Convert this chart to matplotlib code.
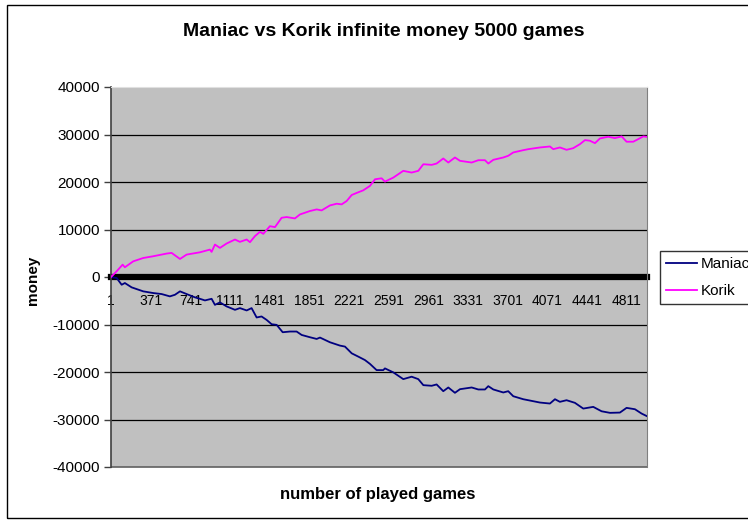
import matplotlib.pyplot as plt
from matplotlib.patches import Rectangle

plt.rcParams['font.family'] = ['Liberation Sans', 'DejaVu Sans']

# game number -> running money
korik_games = [1, 53, 109, 130, 208, 301, 395, 519, 566, 644, 706, 830, 923, 939, 970,
               1017, 1079, 1157, 1203, 1266, 1297, 1343, 1390, 1421, 1483, 1530, 1592,
               1639, 1716, 1763, 1856, 1919, 1965, 2043, 2106, 2152, 2199, 2246, 2292,
               2354, 2416, 2463, 2525, 2556, 2634, 2727, 2805, 2867, 2914, 2992, 3038,
               3100, 3147, 3209, 3256, 3365, 3427, 3489, 3520, 3567, 3660, 3706, 3753,
               3846, 3893, 4002, 4095, 4126, 4188, 4250, 4312, 4375, 4422, 4468, 4515,
               4562, 4639, 4701, 4764, 4810, 4872, 4919, 4966, 5000]
korik_money = [0, 1200, 2600, 2050, 3300, 4000, 4370, 4930, 5070, 3800, 4720, 5200, 5770,
               5290, 6830, 6130, 7050, 7890, 7400, 7890, 7330, 8600, 9510, 9090, 10700,
               10500, 12470, 12620, 12330, 13170, 13890, 14230, 14020, 15070, 15430,
               15290, 16000, 17270, 17700, 18250, 19180, 20570, 20780, 20080, 20930,
               22350, 21990, 22350, 23740, 23610, 23890, 24950, 24100, 25160, 24460,
               24100, 24590, 24590, 23890, 24670, 25160, 25520, 26220, 26700, 26910,
               27270, 27480, 26910, 27270, 26780, 27120, 27970, 28820, 28690, 28180,
               29170, 29530, 29240, 29600, 28480, 28480, 29030, 29600, 29500]

maniac_games = [1, 53, 100, 130, 193, 301, 395, 473, 550, 597, 644, 706, 784, 830, 877,
                939, 970, 1017, 1079, 1157, 1203, 1266, 1312, 1359, 1405, 1452, 1499,
                1546, 1602, 1670, 1732, 1779, 1856, 1919, 1950, 2043, 2136, 2183, 2246,
                2308, 2369, 2416, 2478, 2540, 2556, 2634, 2727, 2805, 2867, 2914, 2992,
                3038, 3100, 3147, 3209, 3256, 3365, 3427, 3489, 3520, 3567, 3660, 3706,
                3753, 3846, 3893, 4002, 4095, 4142, 4188, 4250, 4328, 4406, 4499, 4577,
                4655, 4748, 4810, 4888, 4950, 5000]
maniac_money = [0, -210, -1630, -1270, -2180, -3020, -3380, -3590, -4080, -3740, -3020,
                -3590, -4290, -4590, -4930, -4590, -5860, -5350, -6190, -6910, -6550,
                -7040, -6550, -8520, -8310, -9030, -9940, -10080, -11630, -11480,
                -11480, -12200, -12680, -13040, -12750, -13740, -14440, -14650, -16070,
                -16770, -17480, -18290, -19600, -19600, -19240, -20080, -21500, -20990,
                -21500, -22770, -22900, -22620, -24040, -23260, -24380, -23620, -23260,
                -23680, -23680, -22980, -23680, -24310, -24040, -25100, -25730, -25940,
                -26430, -26640, -25730, -26280, -25940, -26490, -27700, -27340, -28270,
                -28600, -28540, -27550, -27840, -28750, -29300]

xtick_games = list(range(1, 5000, 370))
yticks = list(range(-40000, 40001, 10000))

fig = plt.figure(figsize=(7.48, 5.23), dpi=100)
ax = fig.add_axes([111 / 748, 1 - 467 / 523, 536 / 748, 380 / 523])
ax.set_facecolor('#c0c0c0')

ax.plot(maniac_games, maniac_money, color='#000080', lw=1.3, label='Maniac', zorder=3)
ax.plot(korik_games, korik_money, color='#ff00ff', lw=1.3, label='Korik', zorder=3)

ax.set_xlim(0.5, 5000.5)
ax.set_ylim(-40000, 40000)
ax.set_yticks(yticks)
ax.set_yticklabels([str(v) for v in yticks], fontsize=11)
ax.set_xticks(xtick_games)
ax.set_xticklabels([str(v) for v in xtick_games], fontsize=12.5)

for v in yticks:
    if v not in (0, -40000, 40000):
        ax.axhline(v, color='black', lw=0.9, zorder=1)

# category axis sits on the zero line
ax.spines['bottom'].set_position(('data', 0))
ax.spines['bottom'].set_linewidth(4.5)
ax.spines['bottom'].set_zorder(2)
ax.spines['left'].set_color('#404040')
ax.spines['left'].set_linewidth(1.2)
ax.spines['top'].set_color('#e0e0e0')
ax.spines['right'].set_color('#808080')
ax.tick_params(axis='x', length=0, pad=12)
ax.tick_params(axis='y', length=5, width=1, color='#404040', pad=3)
ax.add_patch(Rectangle((0, 0), 1, 0, transform=ax.transAxes, fill=False,
                       edgecolor='#606060', lw=1.2, clip_on=False))

fig.text(384 / 748, 1 - 31 / 523, 'Maniac vs Korik infinite money 5000 games',
         ha='center', va='center', fontsize=14, fontweight='bold')
fig.text(378 / 748, 1 - 495 / 523, 'number of played games',
         ha='center', va='center', fontsize=12, fontweight='bold')
fig.text(33 / 748, 1 - 280 / 523, 'money', rotation=90,
         ha='center', va='center', fontsize=11, fontweight='bold')

leg = fig.legend(loc='upper left', bbox_to_anchor=(660 / 748, 1 - 251 / 523),
                 fontsize=11, frameon=True, fancybox=False, handlelength=2.0,
                 handletextpad=0.3, borderpad=0.4, labelspacing=0.85,
                 borderaxespad=0)
leg.get_frame().set_edgecolor('black')
leg.get_frame().set_linewidth(1.0)

# outer chart border
fig.patches.append(Rectangle((7 / 748, 5 / 523), 1.2, 1 - 10 / 523,
                             transform=fig.transFigure, fill=False,
                             edgecolor='black', lw=1.0))

fig.savefig('out.png', dpi=100)
